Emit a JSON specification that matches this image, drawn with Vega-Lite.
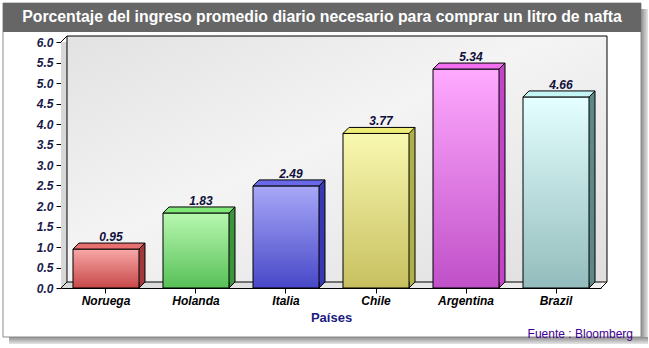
{
  "$schema": "https://vega.github.io/schema/vega-lite/v6.json",
  "background": "white",
  "width": 540,
  "height": 246,
  "autosize": {"type": "none"},
  "padding": {"left": 61, "top": 42, "right": 48, "bottom": 60},
  "view": {"stroke": null},
  "config": {
    "axisX": {"labelAngle": 0, "labelFont": "Liberation Sans", "labelFontSize": 12, "labelFontWeight": "bold", "labelFontStyle": "italic", "labelColor": "#000000", "tickColor": "#000000", "tickSize": 5, "domainColor": "#000000", "labelPadding": 2, "titleFont": "Liberation Sans", "titleFontSize": 13, "titleFontWeight": "bold", "titleColor": "#1a1a80", "titlePadding": 5, "grid": false, "zindex": 1},
    "axisY": {"labelFont": "Liberation Sans", "labelFontSize": 12, "labelFontWeight": "bold", "labelFontStyle": "italic", "labelColor": "#1a1a4a", "tickColor": "#000000", "tickSize": 5, "domainColor": "#000000", "labelPadding": 3, "grid": false, "zindex": 1}
  },
  "data": {"values": [
    {"pais": "Noruega", "valor": 0.95},
    {"pais": "Holanda", "valor": 1.83},
    {"pais": "Italia", "valor": 2.49},
    {"pais": "Chile", "valor": 3.77},
    {"pais": "Argentina", "valor": 5.34},
    {"pais": "Brazil", "valor": 4.66}
  ]},
  "resolve": {"scale": {"fill": "independent"}},
  "layer": [
    {
      "data": {"values": [{}]},
      "mark": {"type": "bar", "width": 7, "xOffset": 88.5, "fill": {"gradient": "linear", "x1": 0, "y1": 0, "x2": 1, "y2": 0, "stops": [{"offset": 0, "color": "#8c8c8c"}, {"offset": 1, "color": "#e6e6e6"}]}},
      "encoding": {
        "x": {"datum": "Brazil", "type": "nominal", "scale": {"domain": ["Noruega", "Holanda", "Italia", "Chile", "Argentina", "Brazil"], "paddingInner": 0.26667, "paddingOuter": 0.13333}, "title": "Países"},
        "y": {"datum": 6.805, "type": "quantitative", "scale": {"domain": [0, 6], "nice": false}, "axis": {"tickCount": 12, "format": ".1f"}, "title": null},
        "y2": {"datum": -1.366}
      }
    },
    {
      "data": {"values": [{}]},
      "mark": {"type": "bar", "width": 639, "xOffset": 222.5, "fill": {"gradient": "linear", "x1": 0, "y1": 0, "x2": 0, "y2": 1, "stops": [{"offset": 0, "color": "#8c8c8c"}, {"offset": 1, "color": "#e6e6e6"}]}},
      "encoding": {
        "x": {"datum": "Noruega", "type": "nominal", "title": "Países"},
        "y": {"datum": -1.195, "type": "quantitative", "title": null},
        "y2": {"datum": -1.366}
      }
    },
    {
      "data": {"values": [{}]},
      "mark": {"type": "bar", "width": 638, "xOffset": 216, "fill": null, "stroke": "#8c8c8c", "strokeWidth": 1},
      "encoding": {
        "x": {"datum": "Noruega", "type": "nominal", "title": "Países"},
        "y": {"datum": 6.95, "type": "quantitative", "title": null},
        "y2": {"datum": -1.195}
      }
    },
    {
      "data": {"values": [{}]},
      "mark": {"type": "bar", "width": 638, "xOffset": 216, "fill": "#666666"},
      "encoding": {
        "x": {"datum": "Noruega", "type": "nominal", "title": "Países"},
        "y": {"datum": 6.95, "type": "quantitative", "title": null},
        "y2": {"datum": 6.244}
      }
    },
    {
      "data": {"values": [{"titulo": "Porcentaje del ingreso promedio diario necesario para comprar un litro de nafta"}]},
      "mark": {"type": "text", "color": "white", "font": "Liberation Sans", "fontSize": 15.8, "fontWeight": "bold", "baseline": "middle", "align": "center", "xOffset": -9},
      "encoding": {
        "y": {"datum": 6.6, "type": "quantitative", "title": null},
        "text": {"field": "titulo"}
      }
    },
    {
      "data": {"values": [{}]},
      "mark": {"type": "rect", "fill": {"gradient": "linear", "x1": 0, "y1": 0, "x2": 1, "y2": 0, "stops": [{"offset": 0, "color": "#d8d8d8"}, {"offset": 1, "color": "#eeeeee"}]}},
      "encoding": {
        "y": {"datum": 6, "type": "quantitative", "title": null},
        "y2": {"datum": 0}
      }
    },
    {
      "data": {"values": [{}]},
      "mark": {"type": "bar", "width": 540, "xOffset": 231, "yOffset": -6, "y2Offset": -6, "stroke": "#000000", "strokeWidth": 1, "fill": {"gradient": "linear", "x1": 0, "y1": 0, "x2": 1, "y2": 1, "stops": [{"offset": 0, "color": "#e2e2e2"}, {"offset": 0.45, "color": "#f4f4f4"}, {"offset": 1, "color": "#dedede"}]}},
      "encoding": {
        "x": {"datum": "Noruega", "type": "nominal", "title": "Países"},
        "y": {"datum": 6, "type": "quantitative", "title": null},
        "y2": {"datum": 0}
      }
    },
    {
      "data": {"values": [{}]},
      "mark": {"type": "point", "shape": "M -1.125 0 L -0.975 -0.15", "size": 6400, "filled": false, "stroke": "#000000", "strokeWidth": 1, "opacity": 1},
      "encoding": {
        "x": {"datum": "Noruega", "type": "nominal", "title": "Países"},
        "y": {"datum": 6, "type": "quantitative", "title": null}
      }
    },
    {
      "data": {"values": [{}]},
      "mark": {"type": "point", "shape": "M -1.125 0 L -0.975 -0.15", "size": 6400, "filled": false, "stroke": "#000000", "strokeWidth": 1, "opacity": 1},
      "encoding": {
        "x": {"datum": "Noruega", "type": "nominal", "title": "Países"},
        "y": {"datum": 0, "type": "quantitative", "title": null}
      }
    },
    {
      "data": {"values": [{}]},
      "mark": {"type": "point", "shape": "M 1.125 0 L 1.275 -0.15", "size": 6400, "filled": false, "stroke": "#000000", "strokeWidth": 1, "opacity": 1},
      "encoding": {
        "x": {"datum": "Brazil", "type": "nominal", "title": "Países"},
        "y": {"datum": 0, "type": "quantitative", "title": null}
      }
    },
    {
      "mark": {"type": "bar", "width": 6, "xOffset": 36, "yOffset": -6, "y2Offset": -6, "strokeWidth": 0},
      "encoding": {
        "x": {"field": "pais", "type": "nominal", "title": "Países"},
        "y": {"field": "valor", "type": "quantitative", "title": null},
        "y2": {"datum": 0},
        "fill": {"field": "pais", "type": "nominal", "legend": null, "scale": {"domain": ["Noruega", "Holanda", "Italia", "Chile", "Argentina", "Brazil"], "range": ["#a03a3a", "#3c943c", "#3838b0", "#b0b048", "#c444c8", "#5c8888"]}}
      }
    },
    {
      "mark": {"type": "point", "shape": "M 0.825 -0.15 L 0.825 0 L 0.975 -0.15", "size": 6400, "filled": true, "stroke": "#000000", "strokeWidth": 1, "opacity": 1},
      "encoding": {
        "x": {"field": "pais", "type": "nominal", "title": "Países"},
        "y": {"datum": 0, "type": "quantitative", "title": null},
        "fill": {"field": "pais", "type": "nominal", "legend": null, "scale": {"domain": ["Noruega", "Holanda", "Italia", "Chile", "Argentina", "Brazil"], "range": ["#a03a3a", "#3c943c", "#3838b0", "#b0b048", "#c444c8", "#5c8888"]}}
      }
    },
    {
      "mark": {"type": "rule", "xOffset": 39, "yOffset": -6, "y2Offset": -6, "stroke": "#000000", "strokeWidth": 1},
      "encoding": {
        "x": {"field": "pais", "type": "nominal", "title": "Países"},
        "y": {"field": "valor", "type": "quantitative", "title": null},
        "y2": {"datum": 0}
      }
    },
    {
      "mark": {"type": "bar", "stroke": "#000000", "strokeWidth": 1},
      "encoding": {
        "x": {"field": "pais", "type": "nominal", "title": "Países"},
        "y": {"field": "valor", "type": "quantitative", "title": null},
        "y2": {"datum": 0},
        "fill": {
          "condition": [
            {"test": "datum.pais === 'Noruega'", "value": {"gradient": "linear", "x1": 0, "y1": 0, "x2": 0, "y2": 1, "stops": [{"offset": 0, "color": "#f8a8a8"}, {"offset": 1, "color": "#c84848"}]}},
            {"test": "datum.pais === 'Holanda'", "value": {"gradient": "linear", "x1": 0, "y1": 0, "x2": 0, "y2": 1, "stops": [{"offset": 0, "color": "#b8f8b0"}, {"offset": 1, "color": "#58c058"}]}},
            {"test": "datum.pais === 'Italia'", "value": {"gradient": "linear", "x1": 0, "y1": 0, "x2": 0, "y2": 1, "stops": [{"offset": 0, "color": "#a8a8f8"}, {"offset": 1, "color": "#4848c8"}]}},
            {"test": "datum.pais === 'Chile'", "value": {"gradient": "linear", "x1": 0, "y1": 0, "x2": 0, "y2": 1, "stops": [{"offset": 0, "color": "#f8f8b0"}, {"offset": 1, "color": "#c8c060"}]}},
            {"test": "datum.pais === 'Argentina'", "value": {"gradient": "linear", "x1": 0, "y1": 0, "x2": 0, "y2": 1, "stops": [{"offset": 0, "color": "#ffaaff"}, {"offset": 1, "color": "#c050c8"}]}}
          ],
          "value": {"gradient": "linear", "x1": 0, "y1": 0, "x2": 0, "y2": 1, "stops": [{"offset": 0, "color": "#e4ffff"}, {"offset": 1, "color": "#94bcbc"}]}
        }
      }
    },
    {
      "mark": {"type": "point", "shape": "M -0.825 0 L -0.675 -0.15 L 0.975 -0.15 L 0.825 0 Z", "size": 6400, "filled": true, "stroke": "#000000", "strokeWidth": 1, "opacity": 1},
      "encoding": {
        "x": {"field": "pais", "type": "nominal", "title": "Países"},
        "y": {"field": "valor", "type": "quantitative", "title": null},
        "fill": {"field": "pais", "type": "nominal", "legend": null, "scale": {"domain": ["Noruega", "Holanda", "Italia", "Chile", "Argentina", "Brazil"], "range": ["#e87070", "#80e878", "#6868e8", "#eeee78", "#f070f0", "#c4f6f6"]}}
      }
    },
    {
      "mark": {"type": "text", "font": "Liberation Sans", "fontSize": 12, "fontWeight": "bold", "fontStyle": "italic", "color": "#10103a", "align": "center", "baseline": "alphabetic", "xOffset": 5, "yOffset": -8},
      "encoding": {
        "x": {"field": "pais", "type": "nominal", "title": "Países"},
        "y": {"field": "valor", "type": "quantitative", "title": null},
        "text": {"field": "valor", "type": "quantitative", "format": ".2f"}
      }
    },
    {
      "data": {"values": [{"fuente": "Fuente : Bloomberg"}]},
      "mark": {"type": "text", "font": "Liberation Sans", "fontSize": 12, "color": "#400090", "align": "right", "baseline": "middle", "xOffset": 77},
      "encoding": {
        "x": {"datum": "Brazil", "type": "nominal", "title": "Países"},
        "y": {"datum": -1.122, "type": "quantitative", "title": null},
        "text": {"field": "fuente"}
      }
    }
  ]
}
